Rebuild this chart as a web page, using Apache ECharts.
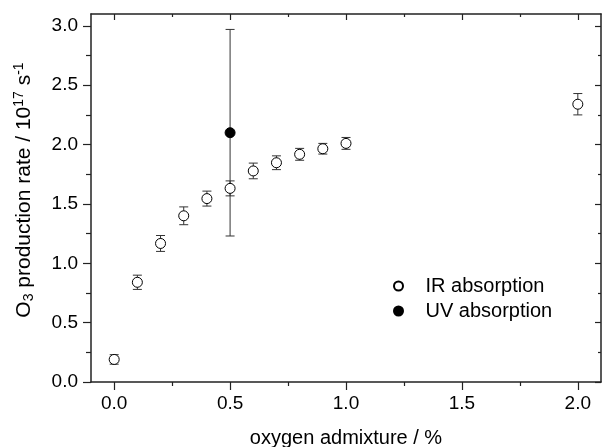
<!DOCTYPE html>
<html>
<head>
<meta charset="utf-8">
<title>O3 production rate</title>
<script src="https://cdn.jsdelivr.net/npm/echarts@6/dist/echarts.min.js"></script>
<style>
  html, body { margin: 0; padding: 0; background: #fff; }
  #chart { width: 602px; height: 447px; }
</style>
</head>
<body>
<div id="chart"></div>
<script>
// oxygen admixture (%) and production rate (10^17 s^-1)
var irX   = [0.0, 0.1, 0.2, 0.3, 0.4, 0.5, 0.6, 0.7, 0.8, 0.9, 1.0, 2.0];
var irY   = [0.19, 0.84, 1.167, 1.40, 1.545, 1.631, 1.778, 1.847, 1.918, 1.965, 2.01, 2.34];
var irErr = [0.04, 0.06, 0.067, 0.075, 0.063, 0.063, 0.066, 0.058, 0.05, 0.045, 0.05, 0.09];
var uvX   = [0.5];
var uvY   = [2.10];
var uvErr = [0.87];

var xMajor = [0, 0.5, 1.0, 1.5, 2.0];
var xMinor = [0.25, 0.75, 1.25, 1.75];
var yMajor = [0, 0.5, 1.0, 1.5, 2.0, 2.5, 3.0];
var yMinor = [0.25, 0.75, 1.25, 1.75, 2.25, 2.75];

var FONT = "'Liberation Sans', Arial, sans-serif";
var lineCol = '#222';

function pts(xs, ys) {
  return xs.map(function (x, i) { return [x, ys[i]]; });
}
function errPts(xs, ys, es) {
  return xs.map(function (x, i) { return [x, ys[i], es[i]]; });
}

// error bar with caps
function renderErr(params, api) {
  var x = api.value(0), y = api.value(1), e = api.value(2);
  var top = api.coord([x, y + e]);
  var bot = api.coord([x, y - e]);
  var hw = 4.5;
  var st = { stroke: '#333', lineWidth: 1 };
  return {
    type: 'group',
    children: [
      { type: 'line', shape: { x1: top[0], y1: top[1], x2: bot[0], y2: bot[1] }, style: st },
      { type: 'line', shape: { x1: top[0] - hw, y1: top[1], x2: top[0] + hw, y2: top[1] }, style: st },
      { type: 'line', shape: { x1: bot[0] - hw, y1: bot[1], x2: bot[0] + hw, y2: bot[1] }, style: st }
    ]
  };
}

function tickAxis(pos, vals, len, inside, showLine) {
  return {
    type: 'value', position: pos,
    min: pos === 'bottom' || pos === 'top' ? -0.1 : 0,
    max: pos === 'bottom' || pos === 'top' ? 2.1 : 3.1,
    axisLine: { show: showLine, onZero: false, lineStyle: { color: lineCol, width: 1.5 } },
    axisTick: { show: true, customValues: vals, length: len, inside: inside, lineStyle: { color: lineCol, width: 1.2 } },
    axisLabel: { show: false },
    splitLine: { show: false }
  };
}

var chart = echarts.init(document.getElementById('chart'), null, { renderer: 'canvas' });

var xMain = tickAxis('bottom', xMajor, 8, false, true);
xMain.axisLabel = {
  show: true, customValues: xMajor, fontSize: 19, fontFamily: FONT, color: '#000', margin: 12,
  formatter: function (v) { return v.toFixed(1); }
};
xMain.name = 'oxygen admixture / %';
xMain.nameLocation = 'middle';
xMain.nameGap = 46;
xMain.nameTextStyle = { fontSize: 20, fontFamily: FONT, color: '#000' };

var yMain = tickAxis('left', yMajor, 8, false, true);
yMain.axisLabel = {
  show: true, customValues: yMajor, fontSize: 19, fontFamily: FONT, color: '#000', margin: 13,
  formatter: function (v) { return v.toFixed(1); }
};
yMain.name = '{a|O}{sub|3}{a| production rate / 10}{sup|17}{a| s}{sup|-1}';
yMain.nameLocation = 'middle';
yMain.nameGap = 55;
yMain.nameTextStyle = {
  fontFamily: FONT, color: '#000',
  padding: [0, 0, 0, 16],
  rich: {
    a: { fontSize: 21, fontFamily: FONT, color: '#000' },
    sub: { fontSize: 14, fontFamily: FONT, color: '#000', padding: [10, 0, 0, 0] },
    sup: { fontSize: 14, fontFamily: FONT, color: '#000', padding: [0, 0, 10, 0] }
  }
};

var option = {
  animation: false,
  backgroundColor: '#fff',
  grid: { left: 91, right: 1, top: 14, bottom: 65, outerBoundsMode: 'none' },
  legend: {
    data: ['IR absorption', 'UV absorption'],
    orient: 'vertical',
    left: 388, top: 271,
    itemWidth: 44, itemHeight: 9, itemGap: 5,
    textStyle: { fontSize: 20, fontFamily: FONT, color: '#000' }
  },
  xAxis: [
    xMain,
    tickAxis('bottom', xMinor, 4, false, false),
    tickAxis('top', xMajor, 6, true, true),
    tickAxis('top', xMinor, 3, true, false)
  ],
  yAxis: [
    yMain,
    tickAxis('left', yMinor, 5, false, false),
    tickAxis('right', yMajor, 6, true, true),
    tickAxis('right', yMinor, 3, true, false)
  ],
  series: [
    {
      type: 'custom', name: 'irErr', renderItem: renderErr,
      data: errPts(irX, irY, irErr), z: 2, silent: true
    },
    {
      type: 'custom', name: 'uvErr', renderItem: renderErr,
      data: errPts(uvX, uvY, uvErr), z: 2, silent: true
    },
    {
      type: 'scatter', name: 'IR absorption', symbol: 'circle', symbolSize: 10,
      itemStyle: { color: '#fff', borderColor: '#000', borderWidth: 1, opacity: 1 },
      data: pts(irX, irY), z: 3
    },
    {
      type: 'scatter', name: 'UV absorption', symbol: 'circle', symbolSize: 10,
      itemStyle: { color: '#000', borderColor: '#000', borderWidth: 1, opacity: 1 },
      data: pts(uvX, uvY), z: 3
    }
  ]
};

chart.setOption(option);
</script>
</body>
</html>
